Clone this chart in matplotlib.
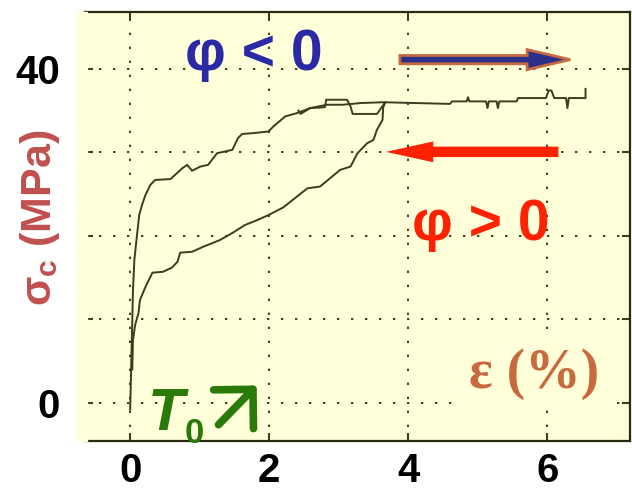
import numpy as np
import matplotlib.pyplot as plt
from matplotlib.patches import FancyArrow, Rectangle

# strain (%) and stress (MPa)
load_x = [0.0, 0.01, 0.03, 0.04, 0.06, 0.09, 0.13, 0.17, 0.22, 0.29, 0.36, 0.58,
          0.75, 0.82, 0.89, 1.01, 1.12, 1.25, 1.47, 1.55, 1.61, 1.77, 1.99, 2.06,
          2.23, 2.40, 2.59, 2.83, 3.06, 3.31, 3.64, 4.60, 4.63, 4.84, 4.86, 4.88,
          5.12, 5.14, 5.16, 5.27, 5.29, 5.31, 5.56, 5.58, 5.98, 6.02, 6.06, 6.10,
          6.27, 6.29, 6.31, 6.55, 6.55]
load_y = [-0.8, 2.8, 9.9, 13.5, 17.1, 19.5, 22.5, 23.7, 24.9, 26.1, 26.7, 26.8,
          28.1, 28.5, 27.8, 28.3, 28.5, 29.9, 30.3, 31.7, 32.2, 32.3, 32.5, 33.1,
          34.3, 34.7, 35.3, 35.7, 35.7, 35.9, 36.0, 35.8, 36.1, 36.1, 36.6, 36.1,
          36.1, 35.3, 36.1, 36.1, 35.3, 36.1, 36.1, 36.5, 36.5, 37.4, 37.4, 36.5,
          36.5, 35.3, 36.5, 36.5, 37.6]

unload_x = [0.03, 0.04, 0.07, 0.12, 0.14, 0.22, 0.32, 0.47, 0.60, 0.68, 0.72,
            0.89, 1.05, 1.29, 1.48, 1.65, 1.83, 1.99, 2.20, 2.55, 2.73, 3.02,
            3.17, 3.27, 3.41, 3.50, 3.55, 3.63, 3.64, 3.67, 3.55, 3.20, 3.17,
            3.12, 2.82, 2.80, 2.59, 2.45, 2.42]
unload_y = [4.0, 7.5, 9.3, 10.8, 12.3, 13.9, 15.6, 15.7, 16.2, 16.9, 18.0,
            18.1, 18.7, 19.5, 20.4, 21.3, 21.9, 22.5, 23.4, 25.7, 25.9, 27.9,
            28.3, 29.9, 31.1, 31.5, 32.7, 33.9, 35.4, 36.0, 34.6, 34.6, 35.5,
            36.3, 36.3, 35.4, 35.3, 34.6, 35.0]

x_ticks = [0, 2, 4, 6]
y_ticks = [0, 10, 20, 30, 40]
y_ticklabels = ['0', '', '', '', '40']

bg = '#ffffd9'
ink = '#3c3c1e'
fam = ['Liberation Sans', 'DejaVu Sans']

fig = plt.figure(figsize=(6.32, 4.91), dpi=100)
ax = fig.add_axes([85/632, 50/491, 545/632, 429/491])
fig.patches.append(Rectangle((77/632, 50/491), 10/632, 429/491,
                             transform=fig.transFigure, color=bg, zorder=0))
ax.set_facecolor(bg)
ax.set_xlim(-0.65, 7.19)
ax.set_ylim(-4.55, 46.8)

ax.set_xticks(x_ticks)
ax.set_yticks(y_ticks)
ax.set_yticklabels(y_ticklabels)
ax.tick_params(direction='in', length=6, width=1.5, color=ink,
               top=True, right=True, labelsize=29, pad=8)
ax.tick_params(axis='y', pad=18)
for lab in ax.get_xticklabels() + ax.get_yticklabels():
    lab.set_fontweight('bold')
    lab.set_family(fam)
for s in ax.spines.values():
    s.set_color('#2a2a10')
    s.set_linewidth(1.6)

ax.grid(True, color=ink, linestyle=(0, (1.2, 6.0)), linewidth=1.4)
ax.set_axisbelow(True)

ax.plot(load_x, load_y, color=ink, lw=1.4, zorder=3)
ax.plot(unload_x, unload_y, color=ink, lw=1.4, zorder=3)

ax.set_ylabel('σ$_\\mathregular{c}$ (MPa)', color='#c0504d', fontsize=31,
              fontweight='bold', family=fam, labelpad=0)
ax.yaxis.set_label_coords(-0.043, 0.52)

ax.text(1.78, 39.9, 'φ < 0', color='#2a2aa6', fontsize=41, fontweight='bold',
        family=fam, ha='center', va='baseline', zorder=5)
ax.text(5.04, 19.5, 'φ > 0', color='#ff2200', fontsize=41, fontweight='bold',
        family=fam, ha='center', va='baseline', zorder=5)
ax.text(5.81, 1.8, 'ε (%)', color='#c8693e', fontsize=40, fontweight='bold',
        family=['Liberation Serif', 'DejaVu Serif'], ha='center', va='baseline',
        zorder=5, bbox=dict(facecolor=bg, edgecolor='none', pad=6))
ax.text(0.26, -3.2, 'T', color='#2a7a0a', fontsize=43, fontweight='bold',
        style='italic', family=fam, ha='left', va='baseline', zorder=5,
        clip_on=False)
ax.text(0.79, -4.8, '0', color='#2a7a0a', fontsize=25, fontweight='bold',
        family=fam, ha='left', va='baseline', zorder=5, clip_on=False)
ax.annotate('', xy=(1.82, 2.1), xytext=(1.27, -2.6),
            arrowprops=dict(arrowstyle='->,head_length=20,head_width=20',
                            mutation_scale=1, color='#2a7a0a', lw=5.5,
                            shrinkA=0, shrinkB=0), zorder=5)

# direction arrows
ax.add_patch(FancyArrow(3.88, 41.1, 2.45, 0, width=1.0, head_width=2.4,
                        head_length=0.62, length_includes_head=True,
                        facecolor='#2b2f8a', edgecolor='#c86a40', lw=2,
                        zorder=5))
ax.add_patch(FancyArrow(6.16, 30.06, -2.48, 0, width=1.25, head_width=2.5,
                        head_length=0.68, length_includes_head=True,
                        facecolor='#ff2200', edgecolor='none', zorder=5))

fig.savefig('out.png', dpi=100, facecolor='white')
